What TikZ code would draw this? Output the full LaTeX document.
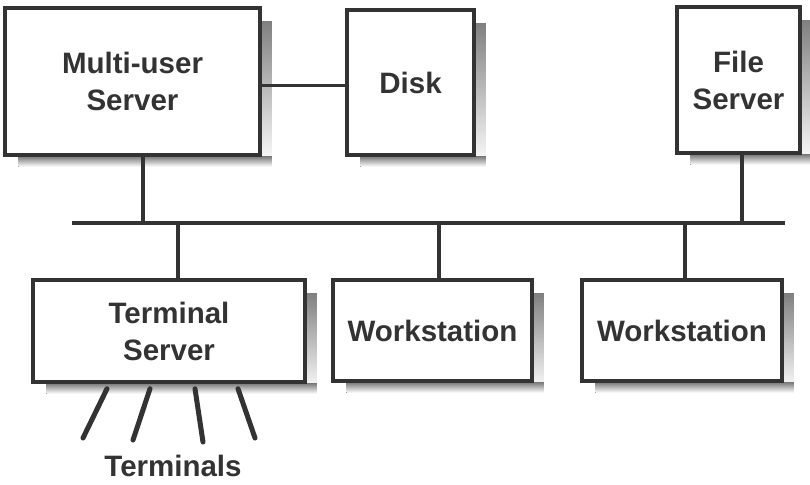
\documentclass[tikz,border=0pt]{standalone}
\usepackage{fontspec}
\setmainfont{Liberation Sans}
\usetikzlibrary{calc,backgrounds}
\definecolor{ink}{HTML}{333333}
\definecolor{shade}{HTML}{7A7A7A}
\tikzset{
  box/.style={draw=ink, line width=3.5pt, fill=white, inner sep=0pt, align=center,
    font=\fontsize{29.5}{37}\bfseries\selectfont, text=ink},
  wire/.style={draw=ink, line width=3.5pt},
  term/.style={draw=ink, line width=5pt, line cap=round},
}
\newcommand{\boxshadow}[1]{%
  \fill[shade] ($(#1.north east)+(0,15)$) rectangle ($(#1.south east)+(10,10)$);
  \fill[shade] ($(#1.south west)+(15,0)$) rectangle ($(#1.south east)+(10,10)$);
}
\begin{document}
\begin{tikzpicture}[x=1pt,y=-1pt]
\useasboundingbox (0,0) rectangle (810,484);
% boxes
\node[box, minimum width=255pt, minimum height=147pt] (mu) at (132.5,81.5) {Multi-user\\Server};
\node[box, minimum width=127pt, minimum height=145pt] (disk) at (410.5,82.5) {Disk};
\node[box, minimum width=123pt, minimum height=146pt] (fs) at (738.5,80) {File\\Server};
\node[box, minimum width=272pt, minimum height=102pt] (ts) at (169,331) {Terminal\\Server};
\node[box, minimum width=199pt, minimum height=101pt] (ws1) at (432.5,330.5) {Workstation};
\node[box, minimum width=200pt, minimum height=101pt] (ws2) at (682,330.5) {Workstation};
% shadows behind the boxes
\begin{pgfonlayer}{background}
\boxshadow{mu}
\boxshadow{disk}
\boxshadow{fs}
\boxshadow{ts}
\boxshadow{ws1}
\boxshadow{ws2}
\end{pgfonlayer}
% bus
\coordinate (busL) at (72,223);
\coordinate (busR) at (785,223);
\draw[wire] (busL) -- (busR);
% connectors
\draw[wire] ([yshift=-4pt]mu.east) -- ([yshift=-4pt]mu.east -| disk.west);
\draw[wire] ([xshift=10.5pt]mu.south) -- ([xshift=10.5pt]mu.south |- busL);
\draw[wire] ([xshift=3.5pt]fs.south) -- ([xshift=3.5pt]fs.south |- busL);
\draw[wire] ([xshift=9pt]ts.north) -- ([xshift=9pt]ts.north |- busL);
\draw[wire] ([xshift=6.5pt]ws1.north) -- ([xshift=6.5pt]ws1.north |- busL);
\draw[wire] ([xshift=3pt]ws2.north) -- ([xshift=3pt]ws2.north |- busL);
% terminals
\coordinate (t1) at (83,438);
\coordinate (t2) at (133,440);
\coordinate (t3) at (203,442);
\coordinate (t4) at (255,438);
\draw[term] ([xshift=-62pt,yshift=-5pt]ts.south) -- (t1);
\draw[term] ([xshift=-19pt,yshift=-5pt]ts.south) -- (t2);
\draw[term] ([xshift=26pt,yshift=-5pt]ts.south) -- (t3);
\draw[term] ([xshift=69pt,yshift=-5pt]ts.south) -- (t4);
\node[font=\fontsize{29.5}{37}\bfseries\selectfont, text=ink] (terms) at (173,466) {Terminals};
\end{tikzpicture}
\end{document}
